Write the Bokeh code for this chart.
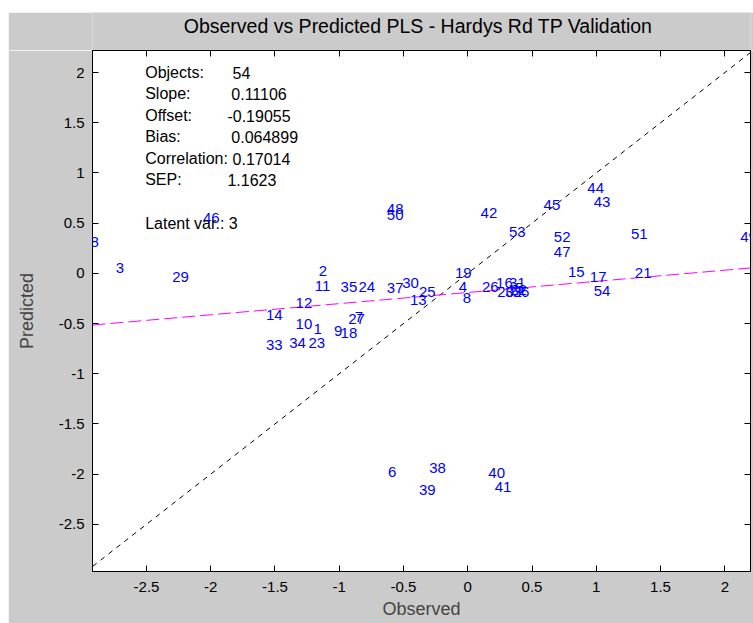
from bokeh.plotting import figure
from bokeh.models import LinearAxis, FixedTicker, Label, Range1d, Spacer
from bokeh.core.properties import value
from bokeh.layouts import column, row
from bokeh.embed import file_html
from bokeh.resources import INLINE

# ---------------- data ----------------
obj_labels = [str(i) for i in range(1, 55)]
observed = [-1.20, -1.16, -2.74, -0.07, 0.37, -0.62, -0.88, -0.04, -1.04, -1.34,
            -1.19, -1.34, -0.45, -1.57, 0.78, 0.22, 0.95, -0.99, -0.10, 0.23,
            1.30, 0.33, -1.24, -0.85, -0.38, 0.11, -0.93, -3.00, -2.30, -0.51,
            0.32, 0.29, -1.57, -1.39, -0.99, 0.35, -0.63, -0.30, -0.38, 0.16,
            0.21, 0.10, 0.98, 0.93, 0.59, -2.06, 0.67, -0.63, 2.12, -0.63,
            1.27, 0.67, 0.32, 0.98]
predicted = [-0.55, 0.02, 0.05, -0.14, -0.15, -1.98, -0.43, -0.25, -0.57, -0.50,
             -0.13, -0.30, -0.27, -0.41, 0.01, -0.10, -0.04, -0.59, 0.00, -0.19,
             0.00, -0.17, -0.69, -0.14, -0.19, -0.14, -0.45, 0.31, -0.04, -0.10,
             -0.10, -0.19, -0.71, -0.69, -0.14, -0.19, -0.15, -1.94, -2.16, -1.99,
             -2.13, 0.60, 0.71, 0.85, 0.68, 0.55, 0.21, 0.64, 0.36, 0.58,
             0.39, 0.36, 0.41, -0.18]

stat_names = ["Objects:", "Slope:", "Offset:", "Bias:", "Correlation:", "SEP:"]
stat_values = ["54", "0.11106", "-0.19055", "0.064899", "0.17014", "1.1623"]
latent_text = "Latent var.: 3"
slope = 0.11106
offset = -0.19055

x_ticks = [-2.5, -2, -1.5, -1, -0.5, 0, 0.5, 1, 1.5, 2]
x_tick_labels = ["-2.5", "-2", "-1.5", "-1", "-0.5", "0", "0.5", "1", "1.5", "2"]
y_ticks = [-2.5, -2, -1.5, -1, -0.5, 0, 0.5, 1, 1.5, 2]
y_tick_labels = ["-2.5", "-2", "-1.5", "-1", "-0.5", "0", "0.5", "1", "1.5", "2"]

title_text = "Observed vs Predicted PLS - Hardys Rd TP Validation"
x_label = "Observed"
y_label = "Predicted"

# ---------------- styling ----------------
FONT = "Liberation Sans"
GRAY = "#CBCBCB"

x0, x1 = -2.92, 2.2
y0, y1 = -2.97, 2.22

# title band (a separate strip above the axes, aligned on the same frame)
TH = 38
tf = figure(width=745, height=TH, x_range=Range1d(0, 1), y_range=Range1d(0, TH),
            output_backend="svg", toolbar_location=None,
            x_axis_location=None, y_axis_location=None,
            min_border=0, border_fill_color=GRAY, background_fill_color=GRAY,
            outline_line_color=None)
tf.grid.visible = False
tf.text(x=[0.495], y=[TH - 13], text=[title_text], text_align="center",
        text_baseline="middle", text_font=value(FONT),
        text_font_size="19.5px", text_color="black")

p = figure(width=745, height=573,
           x_range=Range1d(x0, x1), y_range=Range1d(y0, y1),
           output_backend="svg", toolbar_location=None,
           min_border_left=84, min_border_right=3,
           min_border_top=0, min_border_bottom=52,
           background_fill_color="white", border_fill_color=GRAY,
           outline_line_color="black")
p.grid.visible = False


def style_axis(ax, ticks, labels, show_labels=True):
    ax.ticker = FixedTicker(ticks=ticks)
    ax.major_tick_in = 6
    ax.major_tick_out = 0
    ax.minor_tick_line_color = None
    ax.axis_line_color = "black"
    ax.major_tick_line_color = "black"
    if show_labels:
        ax.major_label_overrides = {t: l for t, l in zip(ticks, labels)}
        ax.major_label_text_font = FONT
        ax.major_label_text_font_size = "15px"
        ax.major_label_text_color = "black"
    else:
        ax.major_label_text_color = None
        ax.major_label_standoff = 0


xa = p.xaxis[0]
style_axis(xa, x_ticks, x_tick_labels)
xa.major_label_standoff = 10
xa.axis_label = x_label
xa.axis_label_text_font = FONT
xa.axis_label_text_font_size = "18px"
xa.axis_label_text_font_style = "normal"
xa.axis_label_standoff = 4

ya = p.yaxis[0]
style_axis(ya, y_ticks, y_tick_labels)
ya.major_label_standoff = 8
ya.axis_label = y_label
ya.axis_label_text_font = FONT
ya.axis_label_text_font_size = "18px"
ya.axis_label_text_font_style = "normal"
ya.axis_label_standoff = 19

top = LinearAxis()
style_axis(top, x_ticks, x_tick_labels, show_labels=False)
p.add_layout(top, "above")
right = LinearAxis()
style_axis(right, y_ticks, y_tick_labels, show_labels=False)
p.add_layout(right, "right")

# 1:1 line across the axes
lo = min(x0, y0) - 0.5
hi = max(x1, y1) + 0.5
p.line([lo, hi], [lo, hi], line_color="black", line_dash="5 5", line_width=1)

# regression line
p.line([x0, x1], [slope * x0 + offset, slope * x1 + offset],
       line_color="#FF00FF", line_dash="13 5", line_width=1)

# object number labels
for xv, yv, t in zip(observed, predicted, obj_labels):
    p.add_layout(Label(x=xv, y=yv, text=t, text_align="left",
                       text_baseline="middle", text_color="#0000FF",
                       text_font=FONT, text_font_size="15px"))

# statistics text block
name_x = -2.51
val_x = [-1.83, -1.84, -1.87, -1.84, -1.83, -1.87]
row_y = [2.00, 1.79, 1.57, 1.36, 1.14, 0.93]
for n, v, vx, ry in zip(stat_names, stat_values, val_x, row_y):
    p.add_layout(Label(x=name_x, y=ry, text=n, text_align="left",
                       text_baseline="middle", text_font=FONT,
                       text_font_size="16px", text_color="black"))
    p.add_layout(Label(x=vx, y=ry, text=v, text_align="left",
                       text_baseline="middle", text_font=FONT,
                       text_font_size="16px", text_color="black"))
p.add_layout(Label(x=name_x, y=0.50, text=latent_text, text_align="left",
                   text_baseline="middle", text_font=FONT,
                   text_font_size="16px", text_color="black"))

layout = column(Spacer(height=12), row(Spacer(width=8), column(tf, p)))
open("out.html", "w").write(file_html(layout, INLINE))
